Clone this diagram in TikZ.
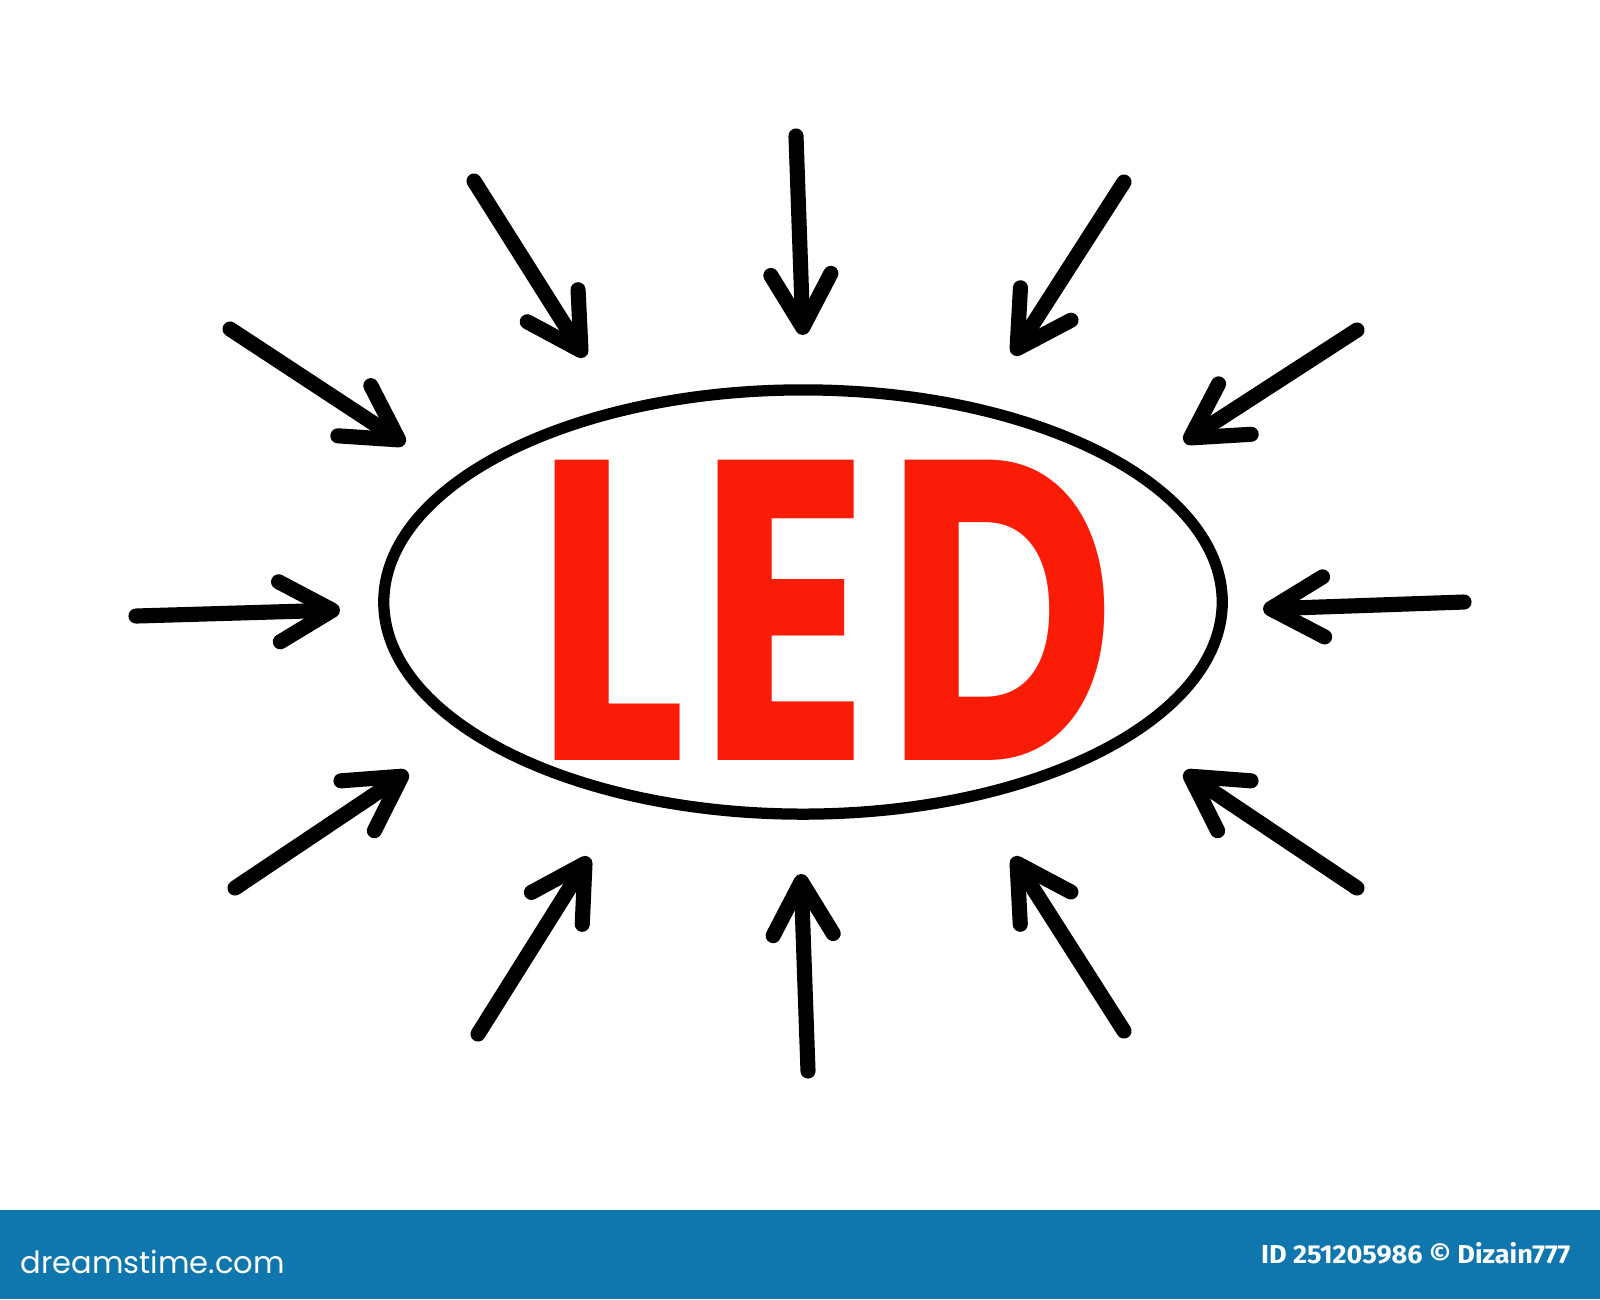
\documentclass[tikz,border=0pt]{standalone}
\usepackage{fontspec}
\setmainfont{Fira Sans}
\newfontfamily\markfont{Poppins}
\usetikzlibrary{arrows.meta,shapes.geometric}

\definecolor{ledred}{RGB}{250,28,6}
\definecolor{barblue}{RGB}{16,119,174}

\tikzset{
  pointer/.style={line width=4.3pt, line cap=round,
    -{Straight Barb[length=5.3mm,width=6mm,round]}},
  rim/.style={draw, ellipse, line width=3.2pt, inner sep=0pt},
}

\begin{document}
\begin{tikzpicture}[x=0.01cm, y=-0.01cm]
    \useasboundingbox (0,0) rectangle (1600,1299);

    \node [rim, minimum width=8.38cm, minimum height=4.24cm] (oval) at (803,602) {};
    \node [inner sep=0pt, text=ledred] (word) at (826,610)
      {\resizebox{5.8cm}{3.0cm}{\markfont\bfseries L\kern0.04em E\kern0.05em D}};

    % arrows: tail / tip
    \foreach \i/\tx/\ty/\hx/\hy in {
        1/136/616/340/610,  2/230/329/405/444,  3/474/181/585/357,
        4/796/136/803/335,  5/1124/182/1013/355, 6/1357/330/1184/442,
        7/1464/602/1263/609, 8/1357/888/1184/772, 9/1124/1031/1013/857,
        10/808/1071/801/874, 11/478/1034/589/857, 12/235/888/408/772} {
      \coordinate (t\i) at (\tx,\ty);
      \coordinate (h\i) at (\hx,\hy);
      \draw [pointer] (t\i) -- (h\i);
    }

    \fill [barblue] (0,1210) rectangle (1600,1299);
    \node [anchor=west, inner sep=0pt, text=white] (site) at (20,1262)
      {\resizebox{2.64cm}{!}{\markfont dreamstime.com}};
    \node [anchor=east, inner sep=0pt, text=white] (credit) at (1571,1253)
      {\resizebox{3.09cm}{0.21cm}{\bfseries ID 251205986 \textcopyright{} Dizain777}};
\end{tikzpicture}
\end{document}
